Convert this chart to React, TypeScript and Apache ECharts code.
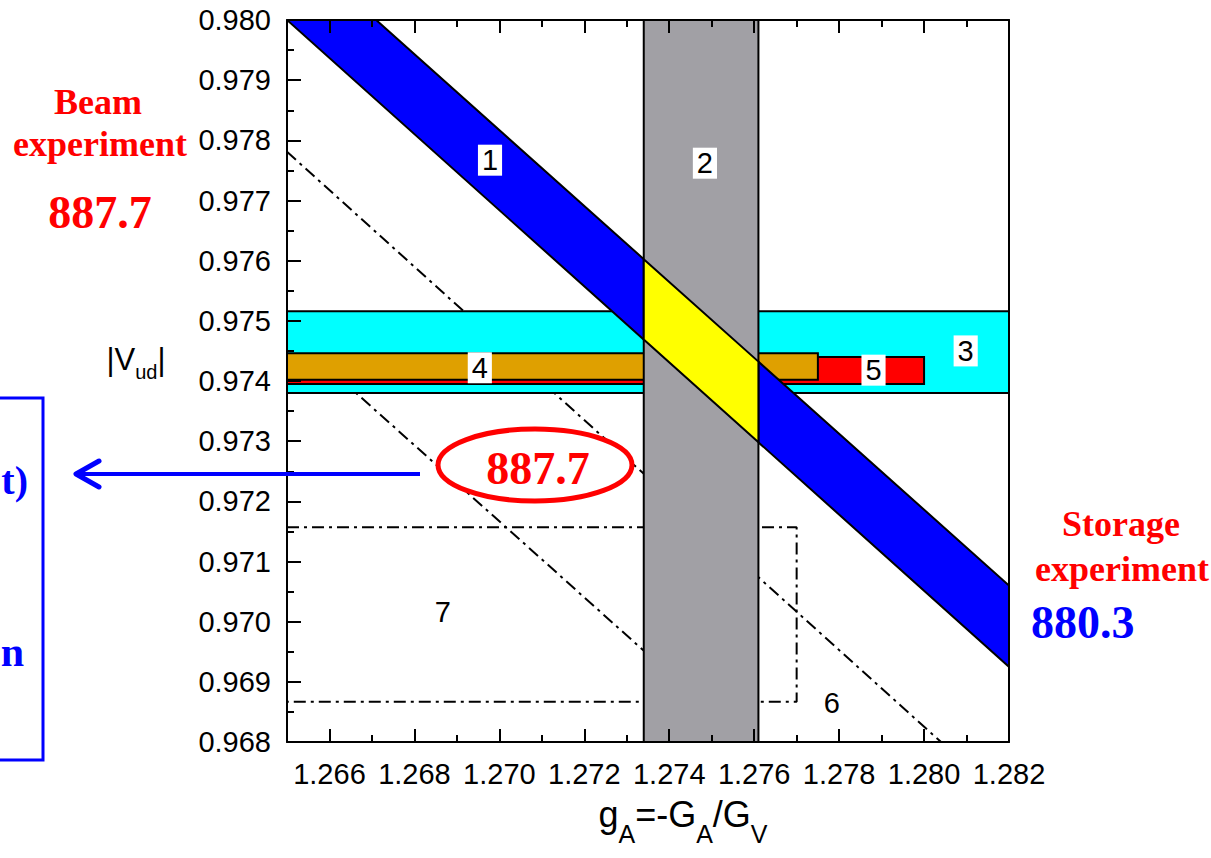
import React, { useEffect, useRef } from 'react';
import * as echarts from 'echarts';

// ---------- data ----------
const X_MIN = 1.265;
const X_MAX = 1.282;
const Y_MIN = 0.968;
const Y_MAX = 0.98;
const Y_INTERVAL = 0.001;
const xMajorTicks = [1.266, 1.268, 1.27, 1.272, 1.274, 1.276, 1.278, 1.28, 1.282];
const xMinorTicks = [1.265, 1.267, 1.269, 1.271, 1.273, 1.275, 1.277, 1.279, 1.281];

// band 1 (neutron lifetime band): two parallel edges
const band1Upper = [[1.2671, 0.98], [1.282, 0.9706]];
const band1Lower = [[1.265, 0.98], [1.282, 0.96925]];
// band 2 (vertical, g_A)
const band2X = [1.2734, 1.2761];
// band 3 (horizontal, cyan)
const band3Y = [0.9738, 0.97516];
// band 4 (orange)
const band4X = [1.265, 1.2775];
const band4Y = [0.97402, 0.97446];
// band 5 (red)
const band5X = [1.265, 1.28];
const band5Y = [0.97395, 0.9744];
// band 6 (dash-dot edges)
const line6Upper = [[1.265, 0.97781], [1.2804, 0.968]];
const line6Lower = [[1.265, 0.97483], [1.2758, 0.968]];
// box 7 (dash-dot)
const box7X = [1.265, 1.277];
const box7Y = [0.96867, 0.97157];

// region numbers
const labelNames = ['1', '2', '3', '4', '5', '6', '7'];
const labelX = [1.26978, 1.27484, 1.28098, 1.26954, 1.27881, 1.27783, 1.26867];
const labelY = [0.97767, 0.97762, 0.9745, 0.97422, 0.97418, 0.96865, 0.97016];

// ---------- helpers ----------
const SANS = '"Liberation Sans", Arial, Helvetica, sans-serif';
const SERIF = '"Liberation Serif", "Times New Roman", serif';
const axisLS = { color: '#000', width: 2 };

const yAt = (line: number[][], x: number) => {
  const [[x0, y0], [x1, y1]] = line;
  return y0 + ((y1 - y0) * (x - x0)) / (x1 - x0);
};

const rectPts = (xs: number[], ys: number[]) => [
  [xs[0], ys[0]],
  [xs[1], ys[0]],
  [xs[1], ys[1]],
  [xs[0], ys[1]],
];

const poly = (name: string, pts: number[][], fill: string, z: number) => ({
  type: 'custom',
  name,
  coordinateSystem: 'cartesian2d',
  xAxisIndex: 0,
  yAxisIndex: 0,
  clip: true,
  silent: true,
  z,
  data: pts,
  renderItem: (params: any, api: any) => {
    if (params.dataIndex !== 0) return null;
    return {
      type: 'polygon',
      shape: { points: pts.map((p) => api.coord(p)) },
      style: { fill, stroke: '#000', lineWidth: 2, lineJoin: 'miter' },
    };
  },
});

const dashLine = (name: string, pts: number[][]) => ({
  type: 'line',
  name,
  xAxisIndex: 0,
  yAxisIndex: 0,
  data: pts,
  symbol: 'none',
  silent: true,
  z: 1,
  lineStyle: { color: '#000', width: 2, type: [12, 5, 3, 5] },
});

const band1Poly = [band1Upper[0], band1Upper[1], band1Lower[1], band1Lower[0]];
const yellowPoly = [
  [band2X[0], yAt(band1Upper, band2X[0])],
  [band2X[1], yAt(band1Upper, band2X[1])],
  [band2X[1], yAt(band1Lower, band2X[1])],
  [band2X[0], yAt(band1Lower, band2X[0])],
];
const box7Path = [
  [box7X[0], box7Y[1]],
  [box7X[1], box7Y[1]],
  [box7X[1], box7Y[0]],
  [box7X[0], box7Y[0]],
];

const fmt = (v: number) => v.toFixed(3);

const xAxisBase = {
  type: 'value',
  min: X_MIN,
  max: X_MAX,
  gridIndex: 0,
  z: 10,
  splitLine: { show: false },
};
const yAxisBase = {
  type: 'value',
  min: Y_MIN,
  max: Y_MAX,
  gridIndex: 0,
  z: 10,
  splitLine: { show: false },
};

const option: any = {
  animation: false,
  backgroundColor: '#ffffff',
  grid: { left: 287, right: 202, top: 20, bottom: 116, containLabel: false },
  xAxis: [
    {
      ...xAxisBase,
      position: 'bottom',
      axisLine: { show: true, onZero: false, lineStyle: axisLS },
      axisTick: { show: true, inside: true, length: 13, customValues: xMajorTicks, lineStyle: axisLS },
      axisLabel: {
        show: true,
        customValues: xMajorTicks,
        formatter: fmt,
        fontSize: 29,
        fontFamily: SANS,
        color: '#000',
        margin: 17,
      },
    },
    {
      ...xAxisBase,
      position: 'bottom',
      axisLine: { show: false },
      axisTick: { show: true, inside: true, length: 7, customValues: xMinorTicks, lineStyle: axisLS },
      axisLabel: { show: false },
    },
    {
      ...xAxisBase,
      position: 'top',
      axisLine: { show: true, onZero: false, lineStyle: axisLS },
      axisTick: { show: true, inside: true, length: 13, customValues: xMajorTicks, lineStyle: axisLS },
      axisLabel: { show: false },
    },
    {
      ...xAxisBase,
      position: 'top',
      axisLine: { show: false },
      axisTick: { show: true, inside: true, length: 7, customValues: xMinorTicks, lineStyle: axisLS },
      axisLabel: { show: false },
    },
  ],
  yAxis: [
    {
      ...yAxisBase,
      interval: Y_INTERVAL,
      position: 'left',
      axisLine: { show: true, onZero: false, lineStyle: axisLS },
      axisTick: { show: true, inside: true, length: 14, lineStyle: axisLS },
      minorTick: { show: true, splitNumber: 2, length: 7, lineStyle: axisLS },
      minorSplitLine: { show: false },
      axisLabel: {
        show: true,
        formatter: fmt,
        fontSize: 29,
        fontFamily: SANS,
        color: '#000',
        margin: 16,
      },
    },
    {
      ...yAxisBase,
      position: 'right',
      axisLine: { show: true, onZero: false, lineStyle: axisLS },
      axisTick: { show: false },
      axisLabel: { show: false },
    },
  ],
  series: [
    dashLine('6a', line6Upper),
    dashLine('6b', line6Lower),
    dashLine('7', box7Path),
    poly('3', rectPts([X_MIN, X_MAX], band3Y), '#00ffff', 3),
    poly('5', rectPts(band5X, band5Y), '#ff0000', 4),
    poly('4', rectPts(band4X, band4Y), '#dfa000', 5),
    poly('1', band1Poly, '#0000ff', 6),
    poly('2', rectPts(band2X, [Y_MIN, Y_MAX]), '#a1a0a5', 7),
    poly('overlap', yellowPoly, '#ffff00', 8),
    {
      type: 'custom',
      name: 'labels',
      coordinateSystem: 'cartesian2d',
      xAxisIndex: 0,
      yAxisIndex: 0,
      silent: true,
      z: 9,
      data: labelNames.map((n, i) => [labelX[i], labelY[i], i]),
      renderItem: (params: any, api: any) => {
        const p = api.coord([api.value(0), api.value(1)]);
        return {
          type: 'text',
          x: p[0],
          y: p[1],
          style: {
            text: labelNames[params.dataIndex],
            fontSize: 29,
            fontFamily: SANS,
            fill: '#000',
            align: 'center',
            verticalAlign: 'middle',
            backgroundColor: '#ffffff',
            padding: [2, 4, 0, 4],
          },
        };
      },
    },
  ],
  graphic: [
    // y axis title |V_ud|
    {
      type: 'text',
      x: 136,
      y: 344,
      z: 20,
      style: {
        text: '{a||V}{s|ud}{a||}',
        align: 'center',
        verticalAlign: 'top',
        rich: {
          a: { fontSize: 31, lineHeight: 32, fontFamily: SANS, fill: '#000', verticalAlign: 'top' },
          s: { fontSize: 20, lineHeight: 20, fontFamily: SANS, fill: '#000', verticalAlign: 'top', padding: [18, 0, 0, 0] },
        },
      },
    },
    // x axis title g_A=-G_A/G_V
    {
      type: 'text',
      x: 683,
      y: 796,
      z: 20,
      style: {
        text: '{a|g}{s|A}{a|=-G}{s|A}{a|/G}{s|V}',
        align: 'center',
        verticalAlign: 'top',
        rich: {
          a: { fontSize: 36, lineHeight: 36, fontFamily: SANS, fill: '#000', verticalAlign: 'top' },
          s: { fontSize: 25, lineHeight: 25, fontFamily: SANS, fill: '#000', verticalAlign: 'top', padding: [25, 0, 0, 0] },
        },
      },
    },
    // left annotation
    { type: 'text', x: 98, y: 102, z: 20, style: { text: 'Beam', fontSize: 36, fontWeight: 'bold', fontFamily: SERIF, fill: '#ff0000', align: 'center', verticalAlign: 'middle' } },
    { type: 'text', x: 100, y: 144, z: 20, style: { text: 'experiment', fontSize: 36, fontWeight: 'bold', fontFamily: SERIF, fill: '#ff0000', align: 'center', verticalAlign: 'middle' } },
    { type: 'text', x: 100, y: 212, z: 20, style: { text: '887.7', fontSize: 46, fontWeight: 'bold', fontFamily: SERIF, fill: '#ff0000', align: 'center', verticalAlign: 'middle' } },
    // right annotation
    { type: 'text', x: 1121, y: 524, z: 20, style: { text: 'Storage', fontSize: 36, fontWeight: 'bold', fontFamily: SERIF, fill: '#ff0000', align: 'center', verticalAlign: 'middle' } },
    { type: 'text', x: 1122, y: 569, z: 20, style: { text: 'experiment', fontSize: 36, fontWeight: 'bold', fontFamily: SERIF, fill: '#ff0000', align: 'center', verticalAlign: 'middle' } },
    { type: 'text', x: 1031, y: 622, z: 20, style: { text: '880.3', fontSize: 46, fontWeight: 'bold', fontFamily: SERIF, fill: '#0000ff', align: 'left', verticalAlign: 'middle' } },
    // ellipse with 887.7
    { type: 'ellipse', z: 30, shape: { cx: 535, cy: 465, rx: 97, ry: 36 }, style: { fill: '#ffffff', stroke: '#ff0000', lineWidth: 5 } },
    { type: 'text', x: 538, y: 468, z: 31, style: { text: '887.7', fontSize: 46, fontWeight: 'bold', fontFamily: SERIF, fill: '#ff0000', align: 'center', verticalAlign: 'middle' } },
    // arrow
    { type: 'line', z: 30, shape: { x1: 420, y1: 474, x2: 78, y2: 474 }, style: { stroke: '#0000ff', lineWidth: 4 } },
    { type: 'polyline', z: 30, shape: { points: [[99, 461], [76, 474], [99, 487]] }, style: { stroke: '#0000ff', lineWidth: 5, fill: 'none', lineCap: 'round', lineJoin: 'round' } },
    // blue box on the left
    { type: 'rect', z: 30, shape: { x: -10, y: 398, width: 53, height: 362 }, style: { fill: 'none', stroke: '#0000ff', lineWidth: 3 } },
    { type: 'text', x: 28, y: 480, z: 30, style: { text: 't)', fontSize: 40, fontWeight: 'bold', fontFamily: SERIF, fill: '#0000ff', align: 'right', verticalAlign: 'middle' } },
    { type: 'text', x: 24, y: 652, z: 30, style: { text: 'n', fontSize: 42, fontWeight: 'bold', fontFamily: SERIF, fill: '#0000ff', align: 'right', verticalAlign: 'middle' } },
  ],
};

export default function App() {
  const ref = useRef<HTMLDivElement>(null);
  useEffect(() => {
    document.body.style.margin = '0';
    document.body.style.overflow = 'hidden';
    const chart = echarts.init(ref.current as HTMLDivElement, null, { renderer: 'svg' });
    chart.setOption(option);
    return () => chart.dispose();
  }, []);
  return <div ref={ref} style={{ width: 1211, height: 858 }} />;
}
